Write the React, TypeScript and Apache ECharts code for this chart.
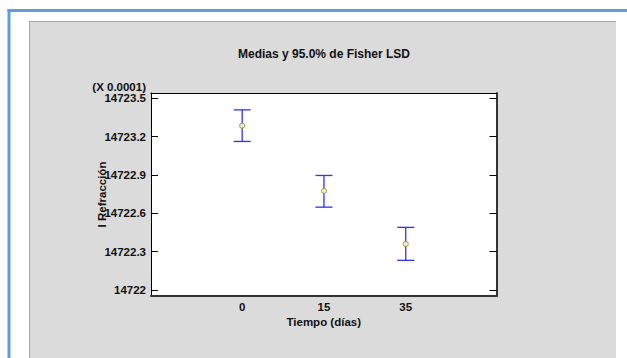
import React, { useEffect, useRef } from "react";
import * as echarts from "echarts";

const categories = ["0", "15", "35"];
const means = [14723.285, 14722.775, 14722.36];
const lowerLimits = [14723.162, 14722.648, 14722.232];
const upperLimits = [14723.409, 14722.896, 14722.49];
const yTickValues = [14722, 14722.3, 14722.6, 14722.9, 14723.2, 14723.5];
const yTickLabels = ["14722", "14722.3", "14722.6", "14722.9", "14723.2", "14723.5"];

const FONT = "Liberation Sans, Arial, sans-serif";

export default function App() {
  const ref = useRef<HTMLDivElement>(null);

  useEffect(() => {
    if (!ref.current) return;
    const chart = echarts.init(ref.current, undefined, { renderer: "svg" });

    const xIdx = categories.map((_, i) => i);
    const yMin = 14721.953;
    const yMax = 14723.541;
    const xMin = -1.115;
    const xMax = 3.11;

    const yLabelFmt = (v: number) => {
      const k = yTickValues.findIndex((t) => Math.abs(t - v) < 1e-6);
      return k >= 0 ? yTickLabels[k] : "";
    };

    const option: any = {
      animation: false,
      backgroundColor: "#ffffff",
      textStyle: { fontFamily: FONT },
      graphic: [
        // blue outer frame
        { type: "rect", z: -20, shape: { x: 7.5, y: 9, width: 3, height: 360 }, style: { fill: "#5f9edc" } },
        { type: "rect", z: -20, shape: { x: 7.5, y: 9, width: 630, height: 3 }, style: { fill: "#5f9edc" } },
        // grey panel
        { type: "rect", z: -20, shape: { x: 29, y: 21, width: 587, height: 340 }, style: { fill: "#dbdbdb" } },
        { type: "line", z: -19, shape: { x1: 29.5, y1: 21, x2: 29.5, y2: 360 }, style: { stroke: "#e48b8b", lineWidth: 1 } },
        { type: "line", z: -19, shape: { x1: 29, y1: 21.5, x2: 616, y2: 21.5 }, style: { stroke: "#e48b8b", lineWidth: 1 } },
        // title
        {
          type: "text",
          x: 324,
          y: 53.5,
          style: {
            text: "Medias y 95.0% de Fisher LSD",
            fontFamily: FONT,
            fontWeight: "bold",
            fontSize: 12,
            fill: "#111",
            textAlign: "center",
            textVerticalAlign: "middle",
          },
        },
        {
          type: "text",
          x: 146,
          y: 87,
          style: {
            text: "(X 0.0001)",
            fontFamily: FONT,
            fontWeight: "bold",
            fontSize: 11.5,
            fill: "#111",
            textAlign: "right",
            textVerticalAlign: "middle",
          },
        },
      ],
      grid: {
        left: 151,
        top: 93,
        width: 345.5,
        height: 203,
        show: true,
        backgroundColor: "#ffffff",
        borderWidth: 0,
      },
      xAxis: [
        {
          type: "value",
          position: "bottom",
          min: xMin,
          max: xMax,
          name: "Tiempo (días)",
          nameLocation: "middle",
          nameGap: 20,
          nameMoveOverlap: false,
          nameTextStyle: { fontFamily: FONT, fontWeight: "bold", fontSize: 11.5, color: "#111" },
          axisLine: { show: true, onZero: false, lineStyle: { color: "#333", width: 2 } },
          axisTick: { show: false },
          splitLine: { show: false },
          axisLabel: {
            customValues: xIdx,
            formatter: (v: number) => categories[Math.round(v)] ?? "",
            fontFamily: FONT,
            fontWeight: "bold",
            fontSize: 11.5,
            color: "#111",
            margin: 5,
          },
        },
        {
          type: "value",
          position: "top",
          min: xMin,
          max: xMax,
          axisLine: { show: true, onZero: false, lineStyle: { color: "#000", width: 1 } },
          axisTick: { show: false },
          axisLabel: { show: false },
          splitLine: { show: false },
        },
      ],
      yAxis: [
        {
          type: "value",
          position: "left",
          min: yMin,
          max: yMax,
          name: "I Refracción",
          nameLocation: "middle",
          nameRotate: 90,
          nameGap: 43,
          nameMoveOverlap: false,
          nameTextStyle: { fontFamily: FONT, fontWeight: "bold", fontSize: 11.5, color: "#111" },
          axisLine: { show: true, onZero: false, lineStyle: { color: "#000", width: 1 } },
          axisTick: {
            show: true,
            inside: true,
            length: 7,
            customValues: yTickValues,
            lineStyle: { color: "#000", width: 1 },
          },
          axisLabel: {
            customValues: yTickValues,
            formatter: yLabelFmt,
            fontFamily: FONT,
            fontWeight: "bold",
            fontSize: 11.5,
            color: "#111",
            margin: 5,
          },
          splitLine: { show: false },
        },
        {
          type: "value",
          position: "right",
          min: yMin,
          max: yMax,
          axisLine: { show: true, onZero: false, lineStyle: { color: "#333", width: 2 } },
          axisTick: {
            show: true,
            inside: true,
            length: 7,
            customValues: yTickValues,
            lineStyle: { color: "#000", width: 1 },
          },
          axisLabel: { show: false },
          splitLine: { show: false },
        },
      ],
      series: [
        {
          type: "custom",
          xAxisIndex: 0,
          yAxisIndex: 0,
          data: xIdx.map((i) => [i, lowerLimits[i], upperLimits[i]]),
          renderItem: (params: any, api: any) => {
            const x = api.value(0);
            const lo = api.coord([x, api.value(1)]);
            const hi = api.coord([x, api.value(2)]);
            const hw = 8.5;
            const style = { stroke: "#3030ff", lineWidth: 1.3 };
            return {
              type: "group",
              children: [
                { type: "line", shape: { x1: hi[0], y1: hi[1], x2: lo[0], y2: lo[1] }, style },
                { type: "line", shape: { x1: hi[0] - hw, y1: hi[1], x2: hi[0] + hw, y2: hi[1] }, style },
                { type: "line", shape: { x1: lo[0] - hw, y1: lo[1], x2: lo[0] + hw, y2: lo[1] }, style },
              ],
            };
          },
          z: 2,
        },
        {
          type: "scatter",
          xAxisIndex: 0,
          yAxisIndex: 0,
          data: xIdx.map((i) => [i, means[i]]),
          symbol: "circle",
          symbolSize: 5,
          itemStyle: { color: "#ffffff", borderColor: "#a0a010", borderWidth: 1.2 },
          z: 3,
        },
      ],
    };

    chart.setOption(option);
    return () => chart.dispose();
  }, []);

  return (
    <div
      ref={ref}
      style={{ position: "fixed", left: 0, top: 0, width: 627, height: 358 }}
    />
  );
}
